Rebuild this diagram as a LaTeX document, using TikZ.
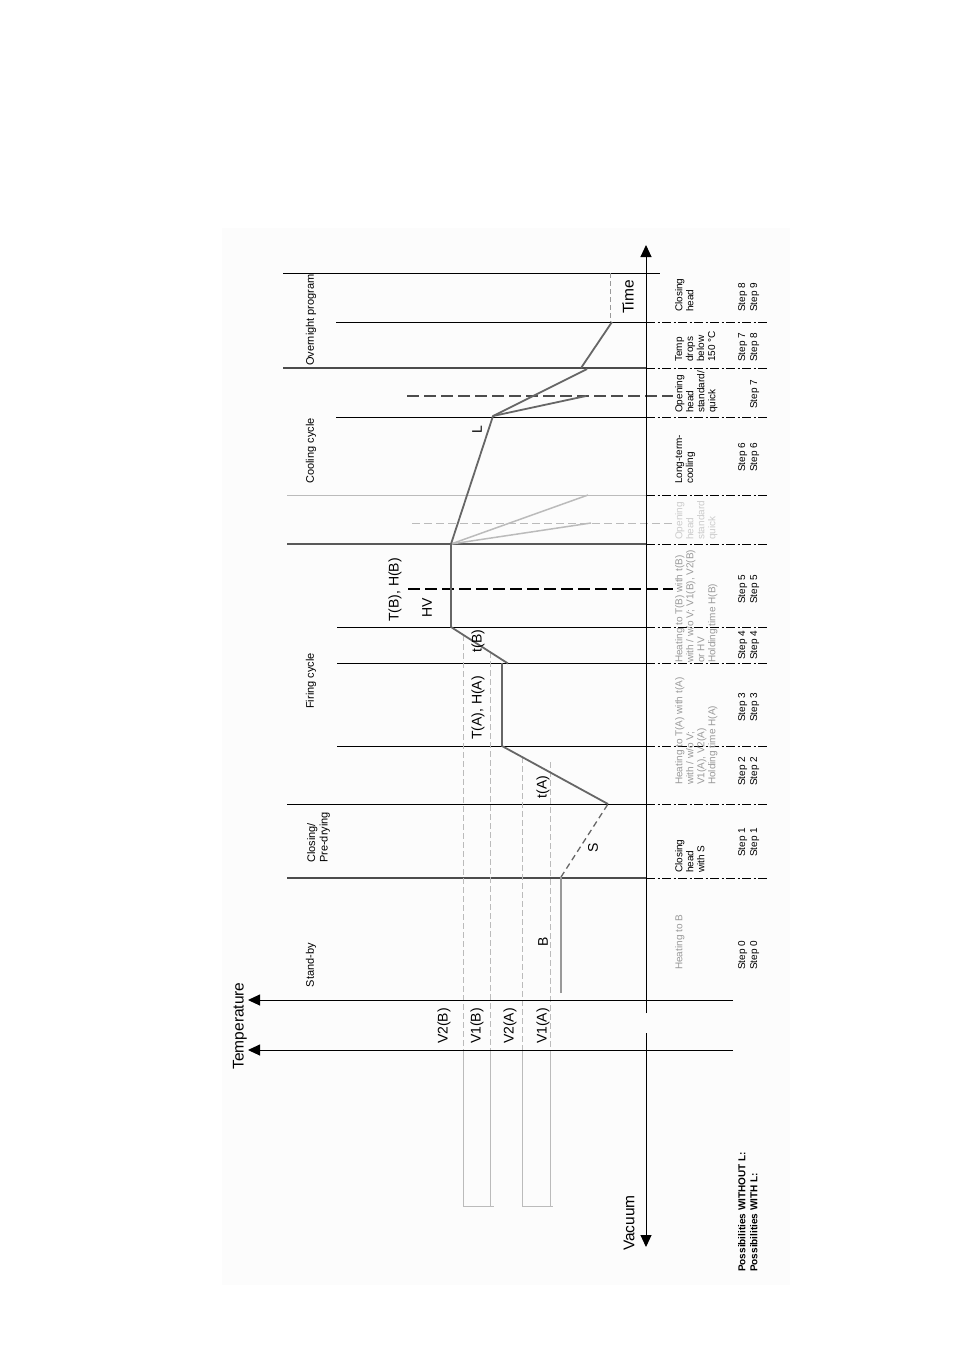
\documentclass[tikz,border=0pt]{standalone}
\usepackage{fontspec}
\setmainfont{Liberation Sans}
\usetikzlibrary{arrows.meta}
\definecolor{curvegray}{HTML}{666666}
\definecolor{lgray}{HTML}{BBBBBB}
\definecolor{mgray}{HTML}{999999}
\definecolor{vlgray}{HTML}{CCCCCC}
\definecolor{bggray}{HTML}{FCFCFC}
\begin{document}
\begin{tikzpicture}[x=1pt,y=-1pt,
  phase/.style={black,line width=0.9pt},
  stepline/.style={black,line width=1pt,dash pattern=on 9pt off 2.5pt on 2pt off 2.5pt},
  curve/.style={draw=curvegray,line width=1.8pt,line join=round},
  lcurve/.style={draw=lgray,line width=1.5pt},
  vdash/.style={draw=lgray,line width=1pt,dash pattern=on 6pt off 3pt},
  vsolid/.style={draw=lgray,line width=1pt},
  axis/.style={black,line width=1pt,-{Triangle[length=12pt,width=11pt]}},
  axlbl/.style={rotate=90,inner sep=0pt,font=\fontsize{15.5}{18}\selectfont},
  clbl/.style={rotate=90,inner sep=0pt,font=\fontsize{14}{16}\selectfont},
  plbl/.style={rotate=90,inner sep=0pt,font=\fontsize{11}{12.5}\selectfont},
  dlbl/.style={rotate=90,anchor=north west,align=left,inner sep=0pt,font=\fontsize{10}{11}\selectfont},
  slbl/.style={rotate=90,anchor=north west,align=left,inner sep=0pt,font=\fontsize{10}{12}\selectfont}
]
\useasboundingbox (0,0) rectangle (954,1350);
\fill[bggray] (222,228) rectangle (790,1285);

% phase boundaries
\draw[phase] (283,273) -- (660,273);
\draw[phase] (336,322) -- (646,322);
\draw[phase,black!70,line width=1.1pt] (283,368) -- (646,368);
\draw[phase] (336,417) -- (646,417);
\draw[phase,lgray] (287,495) -- (646,495);
\draw[phase,black!65,line width=1.1pt] (287,544) -- (646,544);
\draw[phase] (337,627) -- (646,627);
\draw[phase] (337,663) -- (646,663);
\draw[phase] (337,746) -- (646,746);
\draw[phase] (287,804) -- (646,804);
\draw[phase,black!70,line width=1.1pt] (287,878) -- (646,878);
\foreach \yy in {322,368,417,495,544,627,663,746,804,878}
  \draw[stepline] (646,\yy) -- (768,\yy);

% dashed markers
\draw[black!70,line width=1.6pt,dash pattern=on 12pt off 5pt] (407,396) -- (673,396);
\draw[black,line width=1.4pt,dash pattern=on 12pt off 5pt] (408,589) -- (673,589);
\draw[lgray,line width=1pt,dash pattern=on 8pt off 4pt] (412,523) -- (675,523);
\draw[mgray,line width=1pt,dash pattern=on 5pt off 3pt] (610,273) -- (610,322);

% vacuum lines
\draw[vdash] (463,635) -- (463,1050);
\draw[vdash] (490,652) -- (490,1050);
\draw[vdash] (522,757) -- (522,1050);
\draw[vdash] (550,762) -- (550,1050);
\draw[vsolid] (463,1050) -- (463,1206) -- (494,1206);
\draw[vsolid] (490,1050) -- (490,1206);
\draw[vsolid] (522,1050) -- (522,1206) -- (553,1206);
\draw[vsolid] (550,1050) -- (550,1206);

% temperature curve
\draw[draw=mgray,line width=1.5pt] (561,993) -- (561,877);
\draw[curve,line width=1.3pt,dash pattern=on 6pt off 4pt] (561,877) -- (608,804);
\draw[curve] (608,804) -- (502,746) -- (502,663);
\draw[lcurve] (451,544) -- (588,495);
\draw[lcurve] (451,544) -- (591,523);
\draw[curve] (508,663.5) -- (451,627) -- (451,544) -- (493,416) -- (587,369);
\draw[curve] (493,416) -- (586,396);
\draw[curve] (581,368) -- (612,322);

% axes
\draw[axis] (646,1013) -- (646,245);
\draw[axis] (646,1033) -- (646,1247);
\draw[axis] (733,1000) -- (248,1000);
\draw[axis] (733,1050) -- (248,1050);

% axis labels
\node[axlbl] (ltemp) at (240,1026) {Temperature};
\node[axlbl] (ltime) at (628,297) {Time};
\node[axlbl] (lvac) at (629,1223) {Vacuum};

% curve labels
\node[clbl] (lTB) at (395,590) {T(B), H(B)};
\node[clbl] (lHV) at (427,608) {HV};
\node[clbl] (ltB) at (478,641) {t(B)};
\node[clbl] (lTA) at (478,708) {T(A), H(A)};
\node[clbl] (ltA) at (543,787) {t(A)};
\node[clbl] (lS) at (593,848) {S};
\node[clbl] (lB) at (543,942) {B};
\node[clbl] (lL) at (477,430) {L};
\node[clbl] (lV2B) at (444,1026) {V2(B)};
\node[clbl] (lV1B) at (477,1026) {V1(B)};
\node[clbl] (lV2A) at (510,1026) {V2(A)};
\node[clbl] (lV1A) at (543,1026) {V1(A)};

% phase labels
\node[plbl] (pOver) at (311,320) {Overnight program};
\node[plbl] (pCool) at (311,451) {Cooling cycle};
\node[plbl] (pFire) at (311,681) {Firing cycle};
\node[plbl,anchor=north west,align=left] (pClose) at (307,863) {Closing/\\Pre-drying};
\node[plbl] (pStand) at (311,965) {Stand-by};

% descriptions
\node[dlbl,mgray] (d0) at (675,970) {Heating to B};
\node[dlbl] (d1) at (675,873) {Closing\\head\\with S};
\node[dlbl,mgray] (d2) at (675,785) {Heating to T(A) with t(A)\\with / w/o V;\\V1(A), V2(A)\\Holding time H(A)};
\node[dlbl,mgray] (d4) at (675,663) {Heating to T(B) with t(B)\\with / w/o V; V1(B), V2(B)\\or HV\\Holding time H(B)};
\node[dlbl,vlgray] (dOpenL) at (675,540) {Opening\\head\\standard\\quick};
\node[dlbl] (d6) at (675,484) {Long-term-\\cooling};
\node[dlbl] (d7) at (675,413) {Opening\\head\\standard/\\quick};
\node[dlbl] (d8) at (675,362) {Temp\\drops\\below\\150 °C};
\node[dlbl] (d9) at (675,312) {Closing\\head};

% steps
\node[slbl] (s0) at (738,970) {Step 0\\Step 0};
\node[slbl] (s1) at (738,857) {Step 1\\Step 1};
\node[slbl] (s2) at (738,786) {Step 2\\Step 2};
\node[slbl] (s3) at (738,722) {Step 3\\Step 3};
\node[slbl] (s4) at (738,660) {Step 4\\Step 4};
\node[slbl] (s5) at (738,604) {Step 5\\Step 5};
\node[slbl] (s6) at (738,472) {Step 6\\Step 6};
\node[slbl] (s7) at (750,409) {Step 7};
\node[slbl] (s78) at (738,362) {Step 7\\Step 8};
\node[slbl] (s89) at (738,312) {Step 8\\Step 9};
\node[slbl,font=\bfseries\fontsize{10}{12}\selectfont] (poss) at (738,1272) {Possibilities WITHOUT L:\\Possibilities WITH L:};
\end{tikzpicture}
\end{document}
